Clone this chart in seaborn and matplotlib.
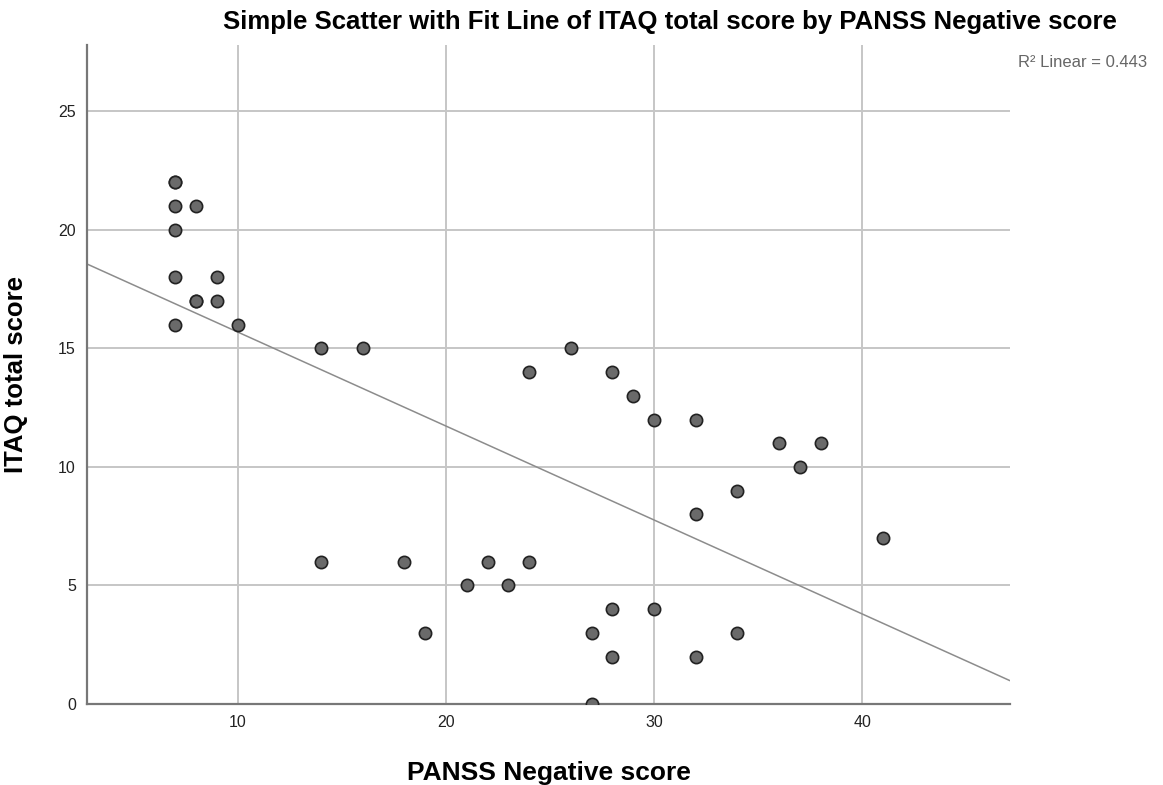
import numpy as np
import matplotlib
matplotlib.use("Agg")
import matplotlib.pyplot as plt
import pandas as pd
import seaborn as sns

# datos (los puntos mas oscuros son repetidos)
panss_neg = [7, 7, 7, 8, 7, 7, 9, 8, 8, 9, 7, 10, 14, 16, 26, 24, 28, 29, 30, 32, 36, 38,
             37, 34, 32, 41, 14, 18, 22, 24, 21, 23, 28, 30, 19, 27, 34, 28, 32, 27]
itaq_total = [22, 22, 21, 21, 20, 18, 18, 17, 17, 17, 16, 16, 15, 15, 15, 14, 14, 13, 12, 12, 11, 11,
              10, 9, 8, 7, 6, 6, 6, 6, 5, 5, 4, 4, 3, 3, 3, 2, 2, 0]
x_ticks = [10, 20, 30, 40]
y_ticks = [0, 5, 10, 15, 20, 25]

df = pd.DataFrame({"PANSS Negative score": panss_neg, "ITAQ total score": itaq_total})

sns.set_style("white")
plt.rcParams["font.family"] = ["Liberation Sans", "DejaVu Sans"]

fig = plt.figure(figsize=(11.63, 7.85), dpi=100)
ax = fig.add_axes([0.0748, 0.1032, 0.7936, 0.8395])

# limites antes del regplot para que la recta llegue a los bordes
ax.set_xlim(2.75, 47.1)
ax.set_ylim(0, 27.8)

sns.regplot(data=df, x="PANSS Negative score", y="ITAQ total score", ax=ax,
            ci=None, truncate=False,
            scatter_kws={"s": 78, "color": "#6a6a6a", "edgecolor": "#222222",
                         "linewidths": 1.2, "alpha": 1, "zorder": 3},
            line_kws={"color": "#8c8c8c", "linewidth": 1.1, "zorder": 2})

ax.set_xlim(2.75, 47.1)
ax.set_ylim(0, 27.8)
ax.set_xticks(x_ticks)
ax.set_yticks(y_ticks)
ax.grid(True, color="#c6c6c6", linewidth=1.4)
ax.set_axisbelow(True)
ax.tick_params(length=0, labelsize=11.5, colors="#222222", pad=8)

for s in ["top", "right"]:
    ax.spines[s].set_visible(False)
for s in ["left", "bottom"]:
    ax.spines[s].set_color("#777777")
    ax.spines[s].set_linewidth(1.6)

ax.set_xlabel("PANSS Negative score", fontsize=19, fontweight="bold", labelpad=22, color="black")
ax.set_ylabel("ITAQ total score", fontsize=18.5, fontweight="bold", labelpad=22, color="black")

fig.text(0.576, 0.972, "Simple Scatter with Fit Line of ITAQ total score by PANSS Negative score",
         ha="center", va="center", fontsize=18.5, fontweight="bold", color="black")

fig.text(0.875, 0.921, "R² Linear = %.3f" % 0.443, ha="left", va="center",
         fontsize=12, color="#666666")

fig.savefig("out.png", dpi=100)
